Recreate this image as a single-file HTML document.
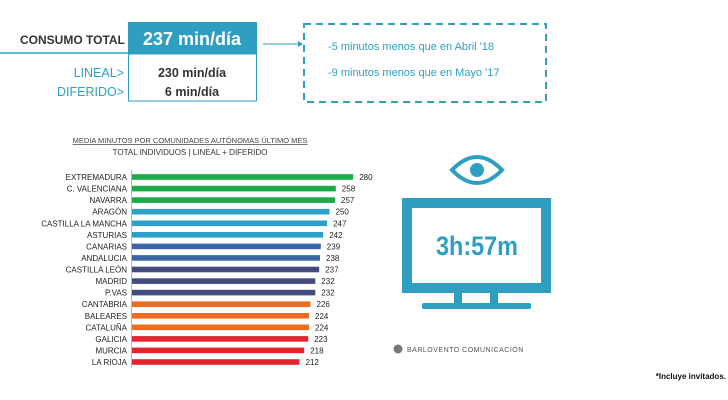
<!DOCTYPE html>
<html><head><meta charset="utf-8"><style>
html,body{margin:0;padding:0;background:#fff;}
svg{display:block;font-family:"Liberation Sans",sans-serif;}
</style></head><body>
<svg width="728" height="400" viewBox="0 0 728 400" xmlns="http://www.w3.org/2000/svg">
<text x="20" y="44" font-size="12" font-weight="bold" fill="#333">CONSUMO TOTAL</text>
<line x1="0" y1="53" x2="128" y2="53" stroke="#2e9fc0" stroke-width="1.5"/>
<rect x="128" y="22" width="129" height="32" fill="#2e9fc0"/>
<text x="192" y="45" font-size="18" font-weight="bold" fill="#fff" text-anchor="middle">237 min/día</text>
<rect x="128.5" y="54" width="128" height="47" fill="none" stroke="#2e9fc0" stroke-width="1"/>
<text x="124" y="77" font-size="12.5" fill="#2e9fc0" text-anchor="end">LINEAL&gt;</text>
<text x="124" y="96" font-size="12.5" fill="#2e9fc0" text-anchor="end">DIFERIDO&gt;</text>
<text x="192" y="77" font-size="12.5" font-weight="bold" fill="#333" text-anchor="middle">230 min/día</text>
<text x="192" y="96" font-size="12.5" font-weight="bold" fill="#333" text-anchor="middle">6 min/día</text>
<line x1="263" y1="44" x2="298" y2="44" stroke="#2e9fc0" stroke-width="1"/>
<polygon points="298,41 303,44 298,47" fill="#2e9fc0"/>
<rect x="304" y="24" width="242" height="78" fill="none" stroke="#2e9fc0" stroke-width="2" stroke-dasharray="7,5"/>
<text x="328" y="50" font-size="11" fill="#2e9fc0">-5 minutos menos que en Abril '18</text>
<text x="328" y="76" font-size="11" fill="#2e9fc0">-9 minutos menos que en Mayo '17</text>
<text x="190" y="143" font-size="7.5" fill="#444" text-anchor="middle" text-decoration="underline">MEDIA MINUTOS POR COMUNIDADES AUTÓNOMAS ÚLTIMO MES</text>
<text x="190" y="155" font-size="8" fill="#333" text-anchor="middle">TOTAL INDIVIDUOS  | LINEAL + DIFERIDO</text>
<line x1="131.5" y1="170" x2="131.5" y2="368" stroke="#bbb" stroke-width="1"/>
<g font-size="8" fill="#222">
<g text-anchor="end">
<text x="127" y="180">EXTREMADURA</text>
<text x="127" y="191.6">C. VALENCIANA</text>
<text x="127" y="203.1">NAVARRA</text>
<text x="127" y="214.7">ARAGÓN</text>
<text x="127" y="226.3">CASTILLA LA MANCHA</text>
<text x="127" y="237.8">ASTURIAS</text>
<text x="127" y="249.4">CANARIAS</text>
<text x="127" y="260.9">ANDALUCIA</text>
<text x="127" y="272.5">CASTILLA LEÓN</text>
<text x="127" y="284.1">MADRID</text>
<text x="127" y="295.6">P.VAS</text>
<text x="127" y="307.2">CANTABRIA</text>
<text x="127" y="318.8">BALEARES</text>
<text x="127" y="330.3">CATALUÑA</text>
<text x="127" y="341.9">GALICIA</text>
<text x="127" y="353.4">MURCIA</text>
<text x="127" y="365">LA RIOJA</text>
</g>
<rect x="132" y="174.2" width="221.2" height="5.6" fill="#1aab4a"/>
<rect x="132" y="185.8" width="203.8" height="5.6" fill="#1aab4a"/>
<rect x="132" y="197.3" width="203.0" height="5.6" fill="#1aab4a"/>
<rect x="132" y="208.9" width="197.5" height="5.6" fill="#2e9fc8"/>
<rect x="132" y="220.5" width="195.1" height="5.6" fill="#2e9fc8"/>
<rect x="132" y="232.0" width="191.2" height="5.6" fill="#2e9fc8"/>
<rect x="132" y="243.6" width="188.8" height="5.6" fill="#3a66a8"/>
<rect x="132" y="255.1" width="188.0" height="5.6" fill="#3a66a8"/>
<rect x="132" y="266.7" width="187.2" height="5.6" fill="#464b7f"/>
<rect x="132" y="278.3" width="183.3" height="5.6" fill="#464b7f"/>
<rect x="132" y="289.8" width="183.3" height="5.6" fill="#464b7f"/>
<rect x="132" y="301.4" width="178.5" height="5.6" fill="#ee6c22"/>
<rect x="132" y="313.0" width="177.0" height="5.6" fill="#ee6c22"/>
<rect x="132" y="324.5" width="177.0" height="5.6" fill="#ee6c22"/>
<rect x="132" y="336.1" width="176.2" height="5.6" fill="#e0252f"/>
<rect x="132" y="347.6" width="172.2" height="5.6" fill="#e0252f"/>
<rect x="132" y="359.2" width="167.5" height="5.6" fill="#e0252f"/>
<text x="359.2" y="180">280</text>
<text x="341.8" y="191.6">258</text>
<text x="341.0" y="203.1">257</text>
<text x="335.5" y="214.7">250</text>
<text x="333.1" y="226.3">247</text>
<text x="329.2" y="237.8">242</text>
<text x="326.8" y="249.4">239</text>
<text x="326.0" y="260.9">238</text>
<text x="325.2" y="272.5">237</text>
<text x="321.3" y="284.1">232</text>
<text x="321.3" y="295.6">232</text>
<text x="316.5" y="307.2">226</text>
<text x="315.0" y="318.8">224</text>
<text x="315.0" y="330.3">224</text>
<text x="314.2" y="341.9">223</text>
<text x="310.2" y="353.4">218</text>
<text x="305.5" y="365">212</text>
</g>
<path d="M452,170 Q477,144 502,170 Q477,196 452,170 Z" fill="none" stroke="#2e9fc0" stroke-width="4"/>
<circle cx="477" cy="170" r="7" fill="#2e9fc0"/>
<rect x="407" y="203" width="139" height="85" fill="none" stroke="#2e9fc0" stroke-width="10"/>
<rect x="454" y="292" width="8" height="12" fill="#2e9fc0"/>
<rect x="490" y="292" width="8" height="12" fill="#2e9fc0"/>
<rect x="422" y="303" width="109" height="6" rx="2" fill="#2e9fc0"/>
<text x="436" y="255" font-size="27" font-weight="bold" fill="#2e9fc0" textLength="82" lengthAdjust="spacingAndGlyphs">3h:57m</text>
<circle cx="398" cy="349" r="4.5" fill="#777"/>
<text x="407" y="352" font-size="7" fill="#555" letter-spacing="0.5">BARLOVENTO COMUNICACIÓN</text>
<text x="726" y="379" font-size="8" font-weight="bold" fill="#111" text-anchor="end">*Incluye invitados.</text>
</svg>
</body></html>
